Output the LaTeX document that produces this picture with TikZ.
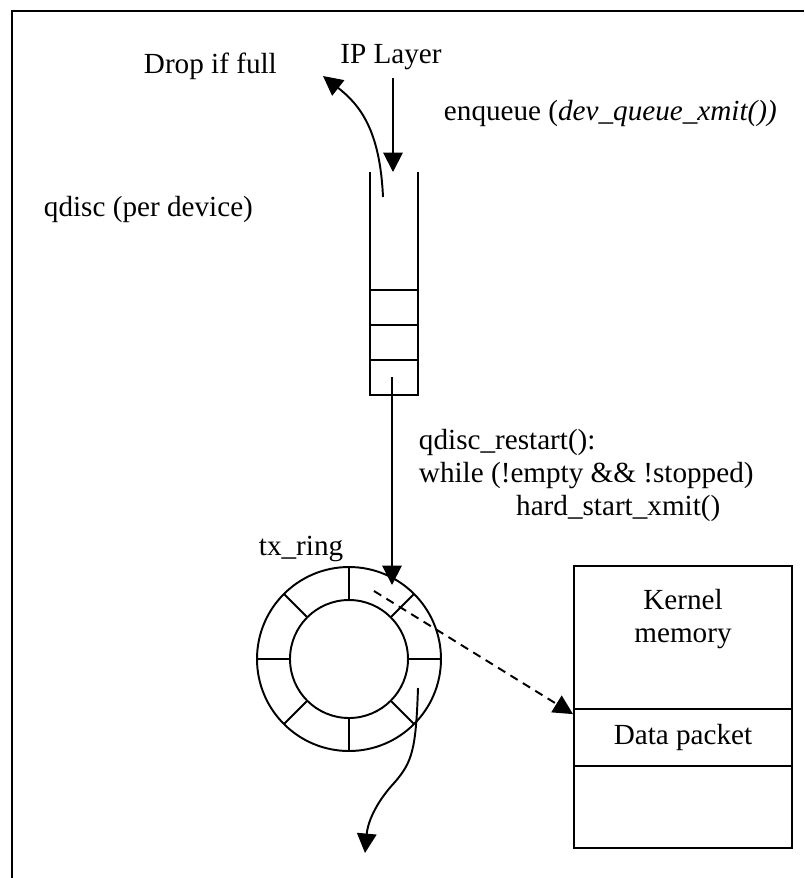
\documentclass[tikz,border=0pt]{standalone}
\usepackage{fontspec}
\setmainfont{Liberation Serif}
\usetikzlibrary{arrows.meta}

\begin{document}
\begin{tikzpicture}[x=0.4114pt, y=-0.4114pt, >={Triangle[length=8pt, width=8pt]}, line width=0.8pt, font=\fontsize{12}{13.7}\selectfont]
\useasboundingbox (0,0) rectangle (804,878);

% Frame (cut off on the right and at the bottom)
\draw[line width=1.1pt] (12,878) -- (12,11) -- (804,11);

% Labels
\node[anchor=base west, inner sep=0] (drop) at (143,73) {Drop if full};
\node[anchor=base] (ip) at (391,63) {IP Layer};
\node[anchor=base west, inner sep=0] (enq) at (443,120) {enqueue (\textit{dev\_queue\_xmit())}};
\node[anchor=base west, inner sep=0] (qdisc) at (43,216) {qdisc (per device)};
\node[anchor=north west, inner sep=0, align=left] (restart) at (418,428) {qdisc\_restart():\\ while (!empty \&\& !stopped)\\ \hspace{40pt}hard\_start\_xmit()};
\node[anchor=base west, inner sep=0] (txring) at (258,555) {tx\_ring};

% Queue of the qdisc
\draw (370,172) -- (370,395) -- (418,395) -- (418,172);
\foreach \y in {290,325,360} \draw (370,\y) -- (418,\y);

% Points where the arrows start or end
\coordinate (qin) at (393,172);
\coordinate (qfull) at (383,197);
\coordinate (dropend) at (323,76);
\coordinate (qout) at (392,377);
\coordinate (ring) at (349,659);
\coordinate (ringin) at (392,585);
\coordinate (slot) at (374,591);
\coordinate (ringout) at (418,688);
\coordinate (txout) at (365,853);

% tx ring
\draw (ring) circle (92);
\draw (ring) circle (59);
\foreach \a in {0,45,...,315} \draw (ring) ++(\a:59) -- ++(\a:33);

% Kernel memory
\draw (574,566) rectangle (792,848);
\node[draw, minimum width=89.7pt, minimum height=23.45pt, inner sep=0] (pkt) at (683,737.5) {Data packet};
\node[anchor=north, align=center, inner sep=0] (kern) at (683,588) {Kernel\\memory};

% Arrows
\draw[->] (ip.south -| qin) -- (qin);
\draw[->] (qfull) .. controls (380,130) and (360,105) .. (dropend);
\draw[->] (qout) -- (ringin);
\draw[->, dash pattern=on 3.5pt off 2.5pt] (slot) -- ([yshift=-2.5pt]pkt.north west);
\draw[->] (ringout) .. controls (416,750) and (412,762) .. (395,782) .. controls (378,800) and (368,820) .. (txout);

\end{tikzpicture}
\end{document}
